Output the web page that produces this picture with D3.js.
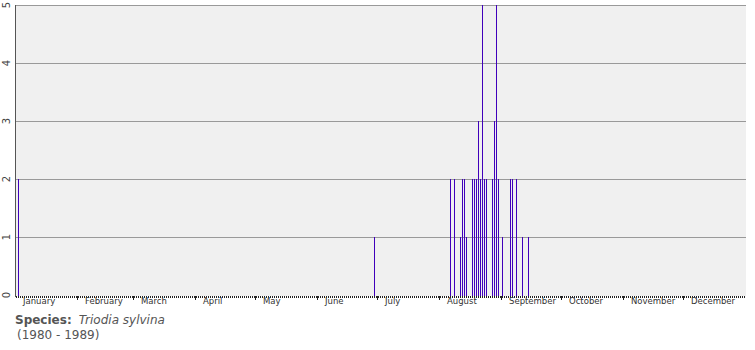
<!DOCTYPE html>
<html>
<head>
<meta charset="utf-8">
<script src="https://cdn.jsdelivr.net/npm/d3@7"></script>
<style>
  body { margin: 0; background: #fff; }
  svg { display: block; }
</style>
</head>
<body>
<div class="chart"></div>
<script>
// DATA ------------------------------------
// observation dates (day-month, single reference year) and counts
const obsDates = ['01-02', '06-29',
    '08-06', '08-08', '08-11', '08-12', '08-13', '08-14', '08-17', '08-18',
    '08-19', '08-20', '08-21', '08-22', '08-23', '08-24', '08-27', '08-28',
    '08-29', '08-30', '09-01', '09-05', '09-06', '09-08', '09-11', '09-14'];
const obsCounts = [2, 1,
    2, 2, 1, 2, 2, 1, 2, 2,
    2, 3, 2, 5, 2, 2, 2, 3,
    5, 2, 1, 2, 2, 2, 1, 1];
const yTicks = [0, 1, 2, 3, 4, 5];
const monthNames = ['January', 'February', 'March', 'April', 'May', 'June',
    'July', 'August', 'September', 'October', 'November', 'December'];
const speciesName = 'Triodia sylvina';
const yearRange = '(1980 - 1989)';

// CHART INIT ------------------------------
const width = 755, height = 350;
const plot = {left: 16, right: 746, top: 5, bottom: 295};

const svg = d3.select('.chart')
    .append('svg')
    .attr('width', width)
    .attr('height', height);

const parseDay = d3.utcParse('%Y-%m-%d');
const yearStart = parseDay('1981-01-01');
const yearEnd = parseDay('1982-01-01');

const xScale = d3.scaleUtc()
    .domain([yearStart, yearEnd])
    .range([plot.left, plot.right]);

const yScale = d3.scaleLinear()
    .domain([0, 5])
    .range([plot.bottom, plot.top]);

const data = obsDates.map((d, i) => ({date: parseDay('1981-' + d), count: obsCounts[i]}));

// background
svg.append('rect')
    .attr('x', plot.left - 1)
    .attr('y', plot.top)
    .attr('width', plot.right - plot.left + 1)
    .attr('height', plot.bottom - plot.top + 1)
    .attr('fill', '#f0f0f0');

// horizontal grid
svg.append('g')
    .selectAll('line')
    .data(yTicks.filter(d => d > 0))
    .join('line')
    .attr('x1', plot.left - 1)
    .attr('x2', plot.right)
    .attr('y1', d => Math.round(yScale(d)) + 0.5)
    .attr('y2', d => Math.round(yScale(d)) + 0.5)
    .attr('stroke', '#999')
    .attr('stroke-width', 1);

// bars (1px wide lines)
svg.append('g')
    .selectAll('rect')
    .data(data)
    .join('rect')
    .attr('x', d => Math.round(xScale(d.date)))
    .attr('y', d => Math.round(yScale(d.count)))
    .attr('width', 1)
    .attr('height', d => Math.round(yScale(0)) - Math.round(yScale(d.count)) + 1)
    .attr('fill', '#4000bb');

// left axis line
svg.append('line')
    .attr('x1', plot.left - 0.5)
    .attr('x2', plot.left - 0.5)
    .attr('y1', plot.top)
    .attr('y2', plot.bottom + 2)
    .attr('stroke', '#555');

// y tick labels, rotated
svg.append('g')
    .selectAll('text')
    .data(yTicks)
    .join('text')
    .attr('transform', d => `translate(10, ${yScale(d)}) rotate(-90)`)
    .attr('text-anchor', 'middle')
    .attr('font-family', 'DejaVu Sans, Verdana, sans-serif')
    .attr('font-size', 10)
    .attr('fill', '#444')
    .text(d => d);

// daily ticks along the bottom
const dayAxis = d3.axisBottom(xScale)
    .tickValues(d3.utcDay.range(yearStart, yearEnd))
    .tickSize(2)
    .tickFormat('');

svg.append('g')
    .attr('transform', `translate(0, ${plot.bottom + 1})`)
    .call(dayAxis)
    .call(g => g.select('.domain').remove())
    .call(g => g.selectAll('.tick').attr('transform', d => `translate(${Math.round(xScale(d)) + 0.5},0)`))
    .call(g => g.selectAll('.tick line').attr('stroke', '#222'));

// month ticks and labels
const monthStarts = d3.utcMonth.range(yearStart, yearEnd);
const monthAxis = d3.axisBottom(xScale)
    .tickValues(monthStarts.slice(1))
    .tickSize(4)
    .tickFormat('');

svg.append('g')
    .attr('transform', `translate(0, ${plot.bottom + 1})`)
    .call(monthAxis)
    .call(g => g.select('.domain').remove())
    .call(g => g.selectAll('.tick').attr('transform', d => `translate(${Math.round(xScale(d)) - 0.5},0)`))
    .call(g => g.selectAll('.tick line').attr('stroke', '#222'));

svg.append('g')
    .selectAll('text')
    .data(monthStarts)
    .join('text')
    .attr('x', d => xScale(d) + 7)
    .attr('y', 304)
    .attr('font-family', 'DejaVu Sans, Verdana, sans-serif')
    .attr('font-size', 8.5)
    .attr('fill', '#333')
    .text((d, i) => monthNames[i]);

// footer
const footer = svg.append('text')
    .attr('x', 15)
    .attr('y', 324)
    .attr('font-family', 'DejaVu Sans, Verdana, sans-serif')
    .attr('font-size', 12)
    .attr('fill', '#555');

footer.append('tspan')
    .attr('font-weight', 'bold')
    .text('Species:');

footer.append('tspan')
    .attr('dx', 7)
    .attr('font-style', 'italic')
    .text(speciesName);

svg.append('text')
    .attr('x', 17)
    .attr('y', 339)
    .attr('font-family', 'DejaVu Sans, Verdana, sans-serif')
    .attr('font-size', 12)
    .attr('fill', '#555')
    .text(yearRange);
</script>
</body>
</html>
